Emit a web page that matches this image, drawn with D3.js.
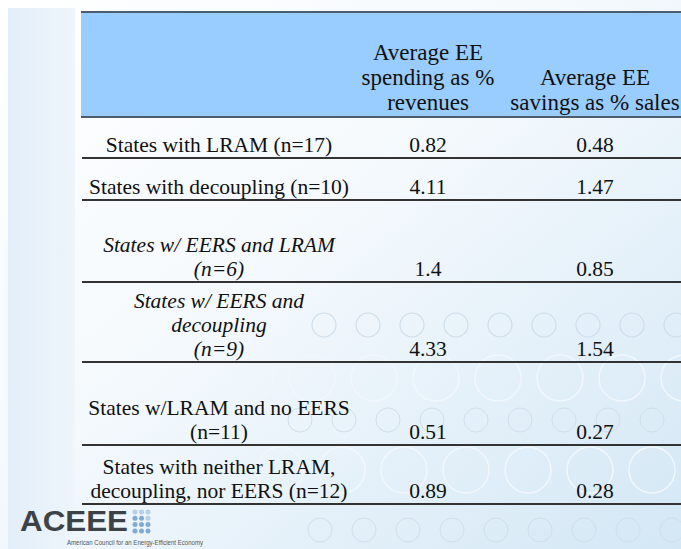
<!DOCTYPE html>
<html>
<head>
<meta charset="utf-8">
<script src="https://cdn.jsdelivr.net/npm/d3@7"></script>
<style>
  body { margin: 0; background: #fff; }
  svg { display: block; }
</style>
</head>
<body>
<svg id="chart"></svg>
<script>
// table content
const headers = [
  ["Average EE", "spending as %", "revenues"],
  ["Average EE", "savings as % sales"]
];
const groups = [
  ["States with LRAM (n=17)"],
  ["States with decoupling (n=10)"],
  ["States w/ EERS and LRAM", "(n=6)"],
  ["States w/ EERS and", "decoupling", "(n=9)"],
  ["States w/LRAM and no EERS", "(n=11)"],
  ["States with neither LRAM,", "decoupling, nor EERS (n=12)"]
];
const italicRows = [false, false, true, true, false, false];
const spending = [0.82, 4.11, 1.4, 4.33, 0.51, 0.89];
const savings = [0.48, 1.47, 0.85, 1.54, 0.27, 0.28];

const width = 681;
const height = 549;
const lineGap = 24;
// bottom rule of each row
const rowBottoms = [158, 200, 282, 362, 445, 504];

const svg = d3.select("#chart")
  .attr("width", width)
  .attr("height", height);

const defs = svg.append("defs");
const bg = defs.append("linearGradient")
  .attr("id", "bg")
  .attr("x1", "0").attr("y1", "0")
  .attr("x2", "1").attr("y2", "1");
bg.append("stop").attr("offset", "0%").attr("stop-color", "#ffffff");
bg.append("stop").attr("offset", "45%").attr("stop-color", "#f4f9fd");
bg.append("stop").attr("offset", "100%").attr("stop-color", "#d3e7f5");

const strip = defs.append("linearGradient")
  .attr("id", "strip")
  .attr("x1", "0").attr("y1", "0")
  .attr("x2", "1").attr("y2", "0");
strip.append("stop").attr("offset", "0%").attr("stop-color", "#e2eef9");
strip.append("stop").attr("offset", "100%").attr("stop-color", "#eef5fb");

svg.append("rect")
  .attr("width", width)
  .attr("height", height)
  .attr("fill", "url(#bg)");

svg.append("rect")
  .attr("x", 8).attr("y", 8)
  .attr("width", 67).attr("height", height - 8)
  .attr("fill", "url(#strip)");

// decorative circles
const deco = svg.append("g").attr("fill", "none");
d3.range(9).forEach(i => {
  deco.append("circle")
    .attr("cx", 324 + i * 44).attr("cy", 325).attr("r", 12)
    .attr("stroke", "#cddde9").attr("stroke-width", 1.1);
});
d3.range(8).forEach(i => {
  deco.append("circle")
    .attr("cx", 250 + i * 62).attr("cy", 378).attr("r", 23)
    .attr("stroke", "#f1f7fc").attr("stroke-width", 1.5);
  deco.append("circle")
    .attr("cx", 280 + i * 62).attr("cy", 470).attr("r", 23)
    .attr("stroke", "#f1f7fc").attr("stroke-width", 1.5);
});
d3.range(9).forEach(i => {
  deco.append("circle")
    .attr("cx", 300 + i * 44).attr("cy", 420).attr("r", 12)
    .attr("stroke", "#d0dfea").attr("stroke-width", 1);
  deco.append("circle")
    .attr("cx", 320 + i * 44).attr("cy", 530).attr("r", 12)
    .attr("stroke", "#d0dfea").attr("stroke-width", 1);
});

// header band
const colX = [219, 428, 595];
svg.append("rect")
  .attr("x", 81).attr("y", 12)
  .attr("width", width - 81).attr("height", 105)
  .attr("fill", "#99ccff");
[12, 117].forEach(y => {
  svg.append("line")
    .attr("x1", 81).attr("x2", width)
    .attr("y1", y).attr("y2", y)
    .attr("stroke", "#4d5d6d").attr("stroke-width", 2);
});

const font = "'Liberation Serif', 'Times New Roman', serif";

headers.forEach((lines, c) => {
  lines.forEach((t, i) => {
    svg.append("text")
      .attr("x", colX[c + 1])
      .attr("y", 110 - (lines.length - 1 - i) * 25)
      .attr("text-anchor", "middle")
      .style("font-family", font)
      .style("font-size", "23px")
      .attr("fill", "#111")
      .text(t);
  });
});

// body rows
const rows = svg.append("g")
  .selectAll("g")
  .data(groups.map((g, i) => ({
    lines: g,
    italic: italicRows[i],
    spend: spending[i],
    save: savings[i],
    bottom: rowBottoms[i]
  })))
  .join("g");

rows.append("line")
  .attr("x1", 82).attr("x2", width)
  .attr("y1", d => d.bottom).attr("y2", d => d.bottom)
  .attr("stroke", "#333").attr("stroke-width", 2);

rows.each(function (d) {
  const g = d3.select(this);
  const base = d.bottom - 6;
  d.lines.forEach((t, i) => {
    g.append("text")
      .attr("x", colX[0])
      .attr("y", base - (d.lines.length - 1 - i) * lineGap)
      .attr("text-anchor", "middle")
      .style("font-family", font)
      .style("font-size", "21.5px")
      .style("font-style", d.italic ? "italic" : "normal")
      .attr("fill", "#111")
      .text(t);
  });
  [d.spend, d.save].forEach((v, c) => {
    g.append("text")
      .attr("x", colX[c + 1])
      .attr("y", base)
      .attr("text-anchor", "middle")
      .style("font-family", font)
      .style("font-size", "21.5px")
      .attr("fill", "#111")
      .text(String(v));
  });
});

// logo
const logo = svg.append("g");
logo.append("text")
  .attr("x", 20).attr("y", 531)
  .attr("textLength", 108)
  .attr("lengthAdjust", "spacingAndGlyphs")
  .style("font-family", "'Liberation Sans', Arial, sans-serif")
  .style("font-weight", "bold")
  .style("font-size", "29px")
  .attr("fill", "#3d4247")
  .text("ACEEE");
d3.range(4).forEach(r => {
  d3.range(3).forEach(c => {
    logo.append("circle")
      .attr("cx", 135 + c * 6.5).attr("cy", 512 + r * 6.3).attr("r", 2.5)
      .attr("fill", r === 0 || (r === 1 && c === 2) ? "#b5d0e8" : "#7eaad6");
  });
});
logo.append("text")
  .attr("x", 67).attr("y", 545)
  .attr("textLength", 136)
  .attr("lengthAdjust", "spacingAndGlyphs")
  .style("font-family", "'Liberation Sans', Arial, sans-serif")
  .style("font-size", "7px")
  .attr("fill", "#555")
  .text("American Council for an Energy-Efficient Economy");
</script>
</body>
</html>
